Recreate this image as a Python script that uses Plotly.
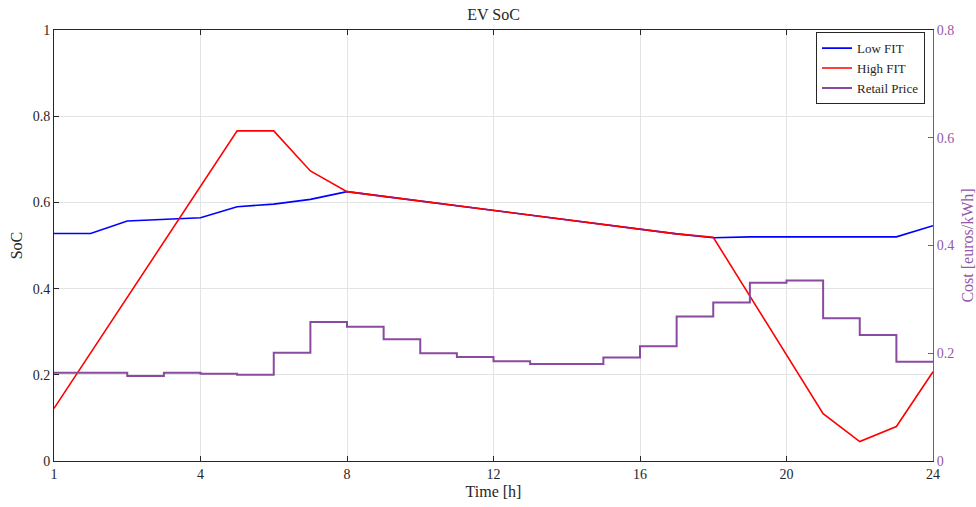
import plotly.graph_objects as go

hours = list(range(0, 25))
tick_pos = [0, 4, 8, 12, 16, 20, 24]
tick_text = ["1", "4", "8", "12", "16", "20", "24"]

soc_low_fit = [0.528, 0.528, 0.557, 0.561, 0.5645, 0.590, 0.596, 0.607, 0.625,
               0.614, 0.603, 0.592, 0.581, 0.570, 0.559, 0.548, 0.537, 0.527,
               0.518, 0.520, 0.520, 0.520, 0.520, 0.520, 0.546]
soc_high_fit = [0.122, 0.251, 0.380, 0.508, 0.637, 0.766, 0.766, 0.673, 0.625,
                0.614, 0.603, 0.592, 0.581, 0.570, 0.559, 0.548, 0.537, 0.527,
                0.519, 0.383, 0.247, 0.110, 0.045, 0.080, 0.207]
retail_price = [0.164, 0.164, 0.158, 0.164, 0.162, 0.160, 0.201, 0.258, 0.249,
                0.226, 0.200, 0.193, 0.185, 0.180, 0.180, 0.192, 0.213, 0.268,
                0.294, 0.331, 0.335, 0.265, 0.234, 0.184, 0.184]

FONT = '"Liberation Serif", "Times New Roman", serif'
DARK = "#262626"
PURPLE = "#8A4A9F"
PURPLE_TXT = "#9358A8"

fig = go.Figure()
fig.add_trace(go.Scatter(x=hours, y=soc_low_fit, mode="lines", name="Low FIT",
                         line=dict(color="#0000FF", width=1.6)))
fig.add_trace(go.Scatter(x=hours, y=soc_high_fit, mode="lines", name="High FIT",
                         line=dict(color="#FF0000", width=1.6)))
fig.add_trace(go.Scatter(x=hours, y=retail_price, mode="lines", name="Retail Price",
                         line=dict(color=PURPLE, width=2, shape="hv"), yaxis="y2"))

fig.update_layout(
    width=976, height=507,
    margin=dict(l=54, r=43, t=30, b=46, autoexpand=False),
    paper_bgcolor="white", plot_bgcolor="white",
    font=dict(family=FONT, size=14, color=DARK),
    title=dict(text="EV SoC", x=(54 + 933) / 2 / 976, xanchor="center",
               y=1 - 14 / 507, yanchor="middle", font=dict(family=FONT, size=16, color=DARK)),
    xaxis=dict(range=[0, 24], tickvals=tick_pos, ticktext=tick_text,
               showgrid=True, gridcolor="#E3E3E3", gridwidth=1,
               showline=True, linecolor=DARK, linewidth=1, mirror="ticks",
               ticks="inside", ticklen=5, tickcolor=DARK, zeroline=False,
               title=dict(text="Time [h]", standoff=5, font=dict(family=FONT, size=16)),
               tickfont=dict(family=FONT, size=14), automargin=False),
    yaxis=dict(range=[0, 1], tickvals=[0, 0.2, 0.4, 0.6, 0.8, 1],
               ticktext=["0", "0.2", "0.4", "0.6", "0.8", "1"],
               showgrid=True, gridcolor="#E3E3E3", gridwidth=1,
               showline=True, linecolor=DARK, linewidth=1,
               ticks="inside", ticklen=5, tickcolor=DARK, zeroline=False,
               title=dict(text="SoC", standoff=6, font=dict(family=FONT, size=16)),
               tickfont=dict(family=FONT, size=14), automargin=False),
    yaxis2=dict(range=[0, 0.8], overlaying="y", side="right",
                tickvals=[0, 0.2, 0.4, 0.6, 0.8], ticktext=["0", "0.2", "0.4", "0.6", "0.8"],
                showgrid=False, showline=True, linecolor=PURPLE, linewidth=1,
                ticks="inside", ticklen=5, tickcolor=PURPLE, zeroline=False,
                tickfont=dict(family=FONT, size=14, color=PURPLE_TXT), automargin=False,
                title=dict(text="Cost [euros/kWh]", standoff=10,
                           font=dict(family=FONT, size=16, color=PURPLE_TXT))),
    legend=dict(x=(925 - 54) / 879, xanchor="right", y=0.995, yanchor="top",
                bgcolor="white", bordercolor=DARK, borderwidth=1,
                font=dict(family=FONT, size=13, color=DARK), tracegroupgap=0, itemwidth=30),
    showlegend=True,
)

fig.write_html("out.html")
